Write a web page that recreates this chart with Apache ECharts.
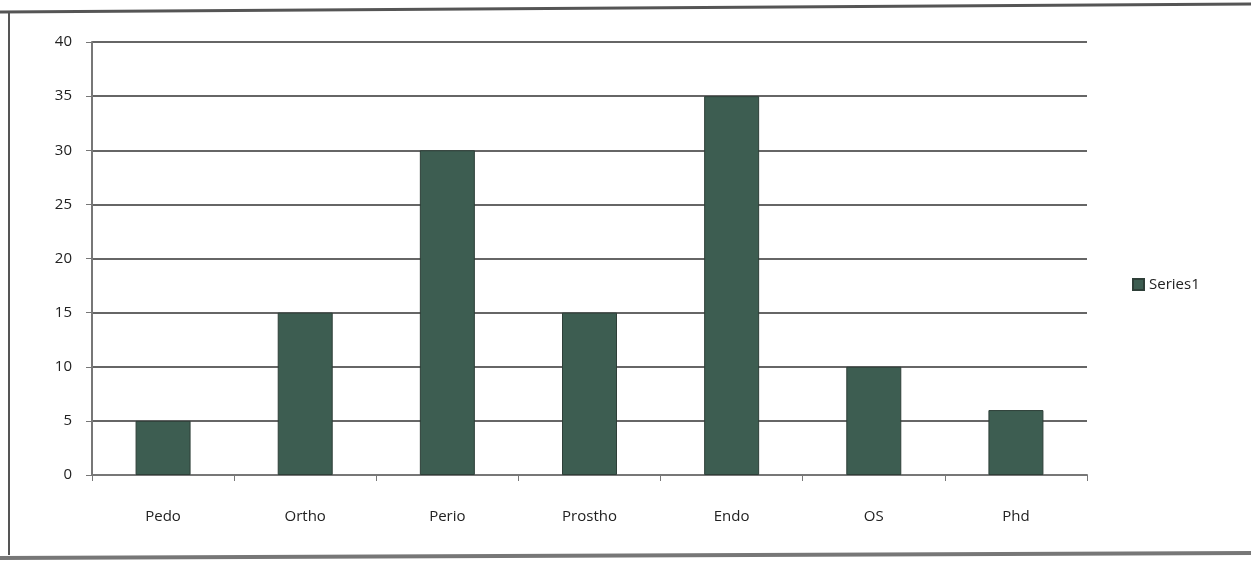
<!DOCTYPE html>
<html>
<head>
<meta charset="utf-8">
<script src="https://cdn.jsdelivr.net/npm/echarts@6/dist/echarts.min.js"></script>
<style>
  html, body { margin: 0; padding: 0; background: #fff; }
  #main { width: 1251px; height: 562px; }
</style>
</head>
<body>
<div id="main"></div>
<script>
// chart data
var categories = ['Pedo', 'Ortho', 'Perio', 'Prostho', 'Endo', 'OS', 'Phd'];
var series1 = [5, 15, 30, 15, 35, 10, 6];
var yTicks = [0, 5, 10, 15, 20, 25, 30, 35, 40];

var myChart = echarts.init(document.getElementById('main'));
var option = {
    backgroundColor: '#fff',
    textStyle: { fontFamily: 'Open Sans, sans-serif' },
    // scanned frame around the chart
    graphic: [
        { type: 'line', shape: { x1: 0, y1: 12, x2: 1251, y2: 4 }, style: { stroke: '#555', lineWidth: 3 } },
        { type: 'line', shape: { x1: 9, y1: 12, x2: 9, y2: 555 }, style: { stroke: '#555', lineWidth: 2 } },
        { type: 'line', shape: { x1: 0, y1: 558, x2: 1251, y2: 553 }, style: { stroke: '#777', lineWidth: 4 } }
    ],
    legend: {
        data: ['Series1'],
        orient: 'vertical',
        left: 1127,
        top: 272,
        itemWidth: 11,
        itemHeight: 11,
        itemGap: 4,
        icon: 'rect',
        textStyle: { fontSize: 15, color: '#222' }
    },
    grid: {
        left: 92,
        right: 164,
        top: 42,
        bottom: 87
    },
    xAxis: {
        type: 'category',
        data: categories,
        axisLine: { lineStyle: { color: '#777', width: 2 } },
        axisTick: { show: true, length: 6, lineStyle: { color: '#777' } },
        axisLabel: { margin: 34, fontSize: 15, color: '#222' }
    },
    yAxis: {
        type: 'value',
        min: 0,
        max: 40,
        interval: 5,
        axisLine: { show: true, lineStyle: { color: '#777', width: 2 } },
        axisTick: { show: true, length: 6, lineStyle: { color: '#777' } },
        axisLabel: {
            margin: 20,
            fontSize: 15,
            color: '#222',
            formatter: function (v) { return yTicks.indexOf(v) >= 0 ? String(v) : ''; }
        },
        splitLine: { lineStyle: { color: '#666', width: 2 } }
    },
    series: [
        {
            name: 'Series1',
            type: 'bar',
            data: series1,
            barWidth: 55,
            itemStyle: { color: '#3d5d51', borderColor: '#2e3f38', borderWidth: 1 }
        }
    ]
};
myChart.setOption(option);
</script>
</body>
</html>
